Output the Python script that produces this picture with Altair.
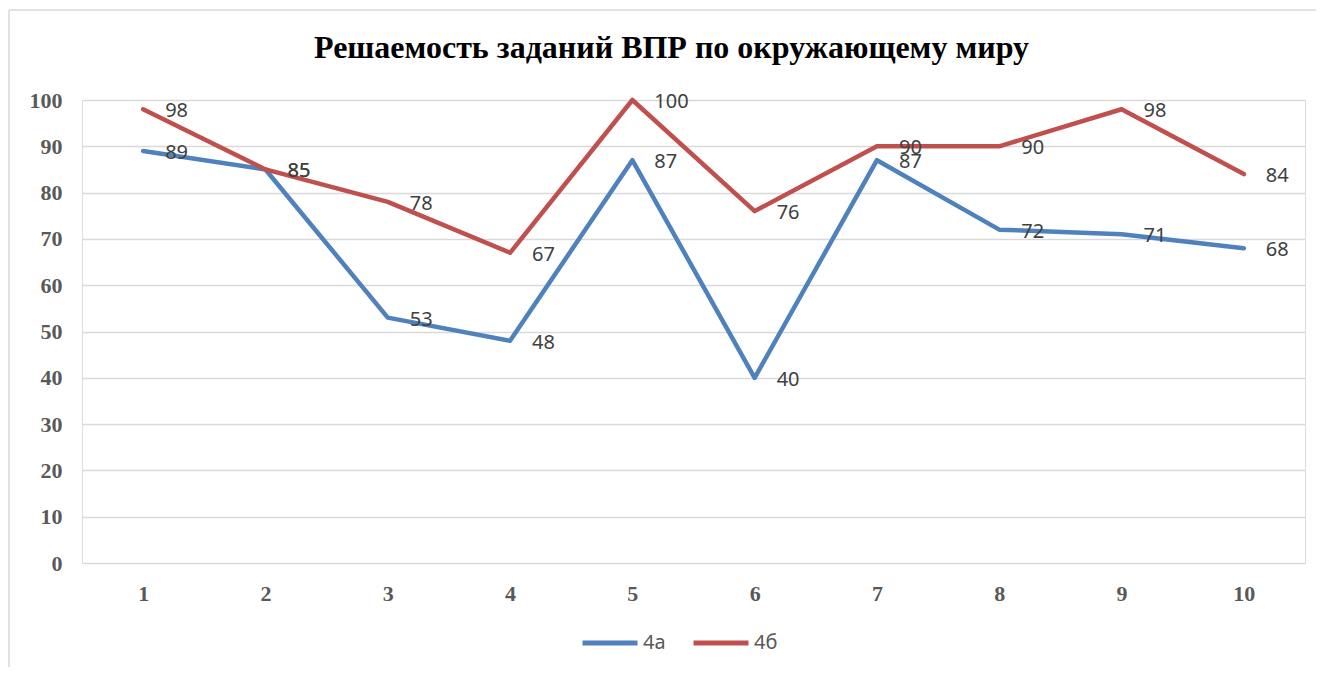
import altair as alt
import pandas as pd

title_text = "Решаемость заданий ВПР по окружающему миру"
tasks = ["1", "2", "3", "4", "5", "6", "7", "8", "9", "10"]
series_names = ["4а", "4б"]
values_a = [89, 85, 53, 48, 87, 40, 87, 72, 71, 68]
values_b = [98, 85, 78, 67, 100, 76, 90, 90, 98, 84]
colors = ["#4F81BD", "#C0504D"]
y_ticks = [0, 10, 20, 30, 40, 50, 60, 70, 80, 90, 100]

rows = []
for name, vals in zip(series_names, [values_a, values_b]):
    for t, v in zip(tasks, vals):
        rows.append({"task": t, "series": name, "value": v})
df = pd.DataFrame(rows)

W, H = 1223, 463
PAD_L, PAD_T = 74, 92
PAD_R = 1308 - PAD_L - W
PAD_B = 659 - PAD_T - H

x = alt.X(
    "task:O", sort=tasks,
    scale=alt.Scale(type="point", padding=0.5),
    axis=alt.Axis(title=None, labelAngle=0, domain=False, ticks=False, grid=False,
                  labelPadding=20, labelFont="Liberation Serif", labelFontWeight="bold",
                  labelFontSize=22, labelColor="#595959"),
)
y = alt.Y(
    "value:Q",
    scale=alt.Scale(domain=[0, 100], nice=False),
    axis=alt.Axis(title=None, values=y_ticks, domain=False, ticks=False, grid=True,
                  gridColor="#D9D9D9", gridWidth=1.5, labelPadding=20,
                  labelFont="Liberation Serif", labelFontWeight="bold", labelFontSize=22,
                  labelColor="#595959"),
)
color = alt.Color(
    "series:N",
    scale=alt.Scale(domain=series_names, range=colors),
    legend=alt.Legend(title=None, orient="none", legendX=498, legendY=513,
                      direction="horizontal", symbolType="stroke", symbolStrokeWidth=5,
                      symbolSize=3025, labelFont="Noto Sans", labelFontSize=20,
                      labelColor="#595959", labelOffset=3, columnPadding=17),
)

base = alt.Chart(df)
lines = base.mark_line(strokeWidth=4.5, strokeCap="round", strokeJoin="round").encode(
    x=x, y=y, color=color
)
labels = base.mark_text(align="left", baseline="middle", dx=22, dy=2, font="Noto Sans",
                        fontSize=20, color="#404040").encode(
    x=x, y=y, text="value:Q"
)

frame_data = alt.Data(values=[{}])
frame_left = alt.Chart(frame_data).mark_rule(color="#D9D9D9", strokeWidth=1.5).encode(
    x=alt.value(-PAD_L + 1), y=alt.value(-PAD_T + 2), y2=alt.value(H + PAD_B)
)
frame_top = alt.Chart(frame_data).mark_rule(color="#D9D9D9", strokeWidth=1.5).encode(
    x=alt.value(-PAD_L + 1), x2=alt.value(W + PAD_R), y=alt.value(-PAD_T + 2)
)

chart = alt.layer(frame_left, frame_top, lines, labels).properties(
    width=W, height=H,
    title=alt.Title(title_text, font="Liberation Serif", fontSize=32, fontWeight="bold",
                    color="#000000", anchor="middle", baseline="alphabetic",
                    dx=-22, dy=81, offset=0),
    autosize=alt.AutoSizeParams(type="none"),
    padding={"left": PAD_L, "top": PAD_T, "right": PAD_R, "bottom": PAD_B},
).configure_view(stroke=None).configure(background="white")

chart.save("out.html", embed_options={"renderer": "svg", "actions": False})
